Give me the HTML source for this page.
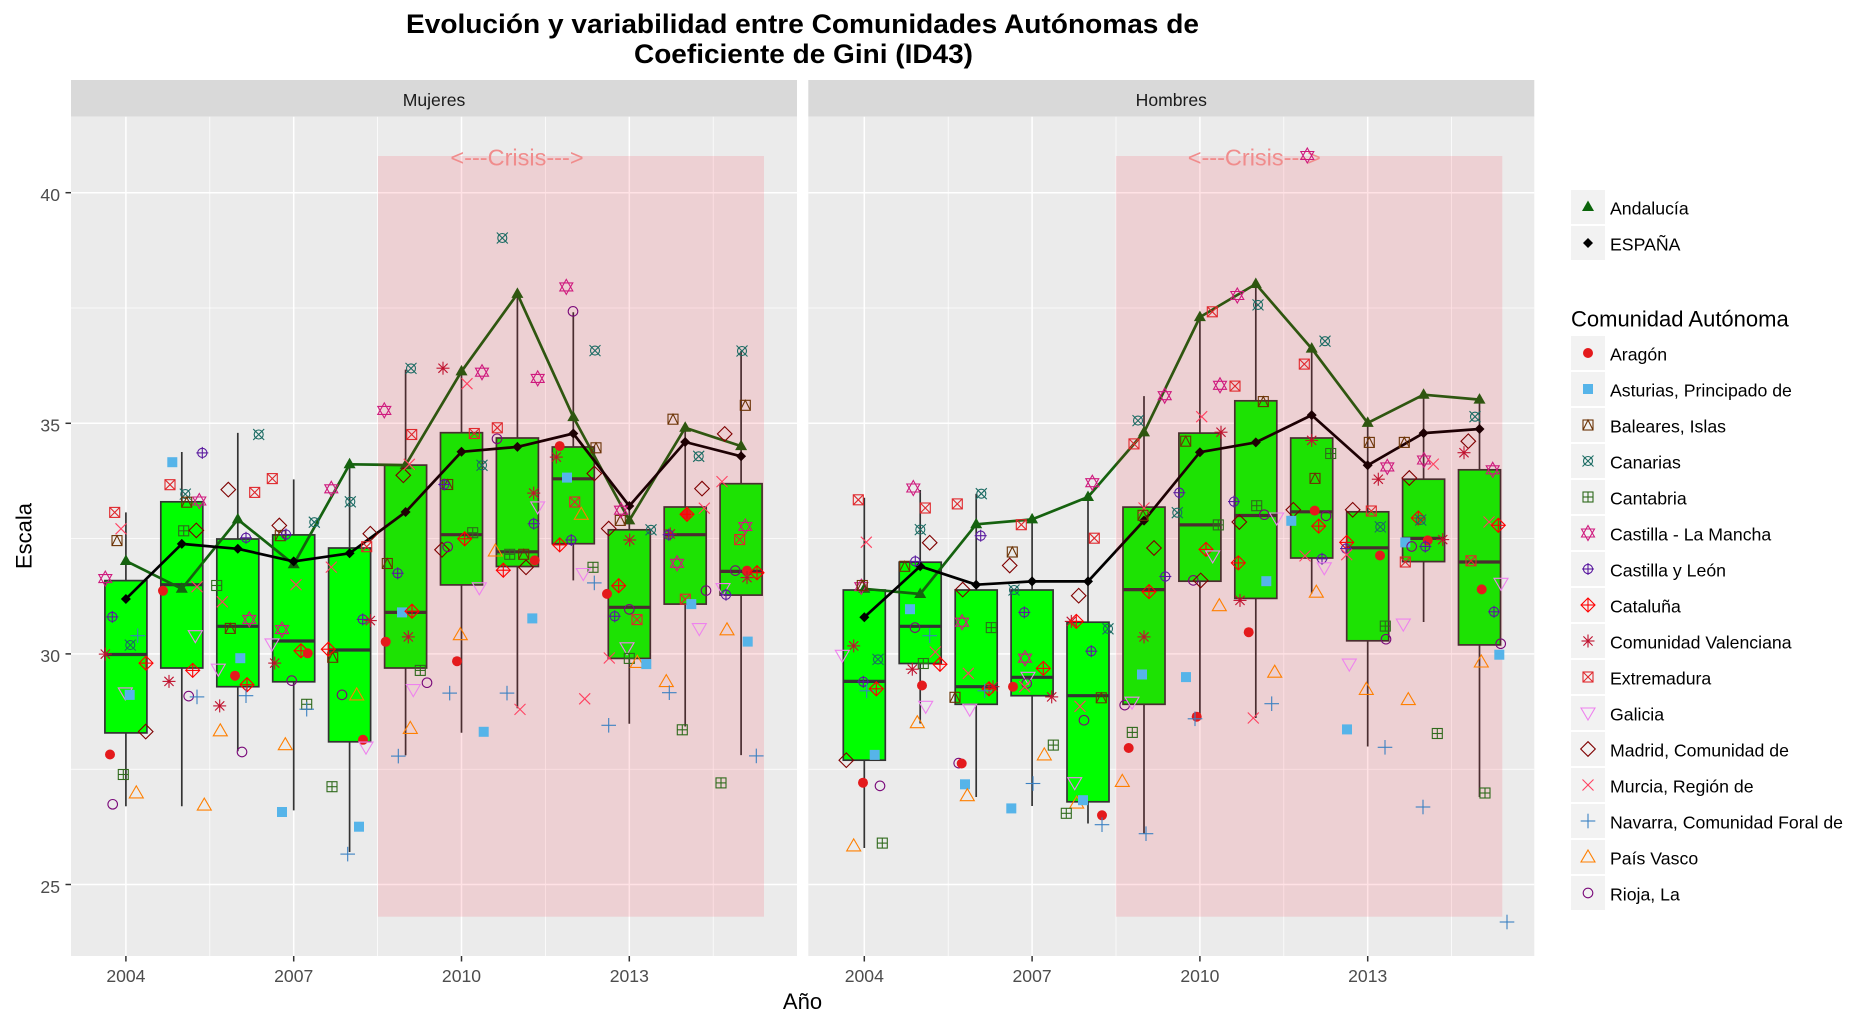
<!DOCTYPE html>
<html><head><meta charset="utf-8">
<style>
html,body{margin:0;padding:0;background:#fff;}
svg{display:block;}
text{font-family:"Liberation Sans",Arial,sans-serif;}
</style></head>
<body>
<svg width="1870" height="1022" viewBox="0 0 1870 1022" xmlns="http://www.w3.org/2000/svg">
<rect width="1870" height="1022" fill="#fff"/>
<!-- Title -->
<text x="802.5" y="33" font-size="27" font-weight="bold" text-anchor="middle" textLength="793" lengthAdjust="spacingAndGlyphs">Evolución y variabilidad entre Comunidades Autónomas de</text>
<text x="803.5" y="63" font-size="27" font-weight="bold" text-anchor="middle" textLength="339" lengthAdjust="spacingAndGlyphs">Coeficiente de Gini (ID43)</text>

<!-- Strips -->
<rect x="71" y="80" width="726" height="36.7" fill="#d9d9d9"/>
<rect x="808.3" y="80" width="726" height="36.7" fill="#d9d9d9"/>
<text x="434" y="106" font-size="17.6" fill="#1a1a1a" text-anchor="middle">Mujeres</text>
<text x="1171.3" y="106" font-size="17.6" fill="#1a1a1a" text-anchor="middle">Hombres</text>

<!-- Panels -->
<rect x="71" y="116.7" width="726" height="839.3" fill="#ebebeb"/>
<rect x="808.3" y="116.7" width="726" height="839.3" fill="#ebebeb"/>

<g stroke="#fff" stroke-width="0.75">
  <line x1="71" x2="797" y1="769.2" y2="769.2"/><line x1="71" x2="797" y1="538.6" y2="538.6"/><line x1="71" x2="797" y1="308" y2="308"/>
  <line x1="808.3" x2="1534.3" y1="769.2" y2="769.2"/><line x1="808.3" x2="1534.3" y1="538.6" y2="538.6"/><line x1="808.3" x2="1534.3" y1="308" y2="308"/>
  <line y1="116.7" y2="956" x1="209.8" x2="209.8"/><line y1="116.7" y2="956" x1="377.6" x2="377.6"/><line y1="116.7" y2="956" x1="545.4" x2="545.4"/><line y1="116.7" y2="956" x1="713.2" x2="713.2"/>
  <line y1="116.7" y2="956" x1="948.2" x2="948.2"/><line y1="116.7" y2="956" x1="1116" x2="1116"/><line y1="116.7" y2="956" x1="1283.8" x2="1283.8"/><line y1="116.7" y2="956" x1="1451.6" x2="1451.6"/>
</g>
<g stroke="#fff" stroke-width="1.5">
  <line x1="71" x2="797" y1="884.5" y2="884.5"/><line x1="71" x2="797" y1="653.9" y2="653.9"/><line x1="71" x2="797" y1="423.3" y2="423.3"/><line x1="71" x2="797" y1="192.7" y2="192.7"/>
  <line x1="808.3" x2="1534.3" y1="884.5" y2="884.5"/><line x1="808.3" x2="1534.3" y1="653.9" y2="653.9"/><line x1="808.3" x2="1534.3" y1="423.3" y2="423.3"/><line x1="808.3" x2="1534.3" y1="192.7" y2="192.7"/>
  <line y1="116.7" y2="956" x1="125.9" x2="125.9"/><line y1="116.7" y2="956" x1="293.7" x2="293.7"/><line y1="116.7" y2="956" x1="461.5" x2="461.5"/><line y1="116.7" y2="956" x1="629.3" x2="629.3"/>
  <line y1="116.7" y2="956" x1="864.3" x2="864.3"/><line y1="116.7" y2="956" x1="1032.1" x2="1032.1"/><line y1="116.7" y2="956" x1="1199.9" x2="1199.9"/><line y1="116.7" y2="956" x1="1367.7" x2="1367.7"/>
</g>

<g id="boxes"></g>
<g id="lines"></g>

<!-- Crisis rectangles -->
<rect x="378" y="156" width="386" height="760.7" fill="rgb(255,0,26)" fill-opacity="0.115"/>
<rect x="1115.9" y="156" width="386.4" height="760.7" fill="rgb(255,0,26)" fill-opacity="0.115"/>

<g id="pts"></g>

<text x="517" y="165.5" font-size="23.5" fill="#f08c8c" text-anchor="middle">&lt;---Crisis---&gt;</text>
<text x="1254.3" y="165.5" font-size="23.5" fill="#f08c8c" text-anchor="middle">&lt;---Crisis---&gt;</text>
<g id="pts2"></g>

<!-- Axes -->
<g stroke="#333" stroke-width="1.5">
  <line x1="65.5" x2="71" y1="884.5" y2="884.5"/><line x1="65.5" x2="71" y1="653.9" y2="653.9"/><line x1="65.5" x2="71" y1="423.3" y2="423.3"/><line x1="65.5" x2="71" y1="192.7" y2="192.7"/>
  <line y1="956" y2="961.5" x1="125.9" x2="125.9"/><line y1="956" y2="961.5" x1="293.7" x2="293.7"/><line y1="956" y2="961.5" x1="461.5" x2="461.5"/><line y1="956" y2="961.5" x1="629.3" x2="629.3"/>
  <line y1="956" y2="961.5" x1="864.3" x2="864.3"/><line y1="956" y2="961.5" x1="1032.1" x2="1032.1"/><line y1="956" y2="961.5" x1="1199.9" x2="1199.9"/><line y1="956" y2="961.5" x1="1367.7" x2="1367.7"/>
</g>
<g font-size="17.6" fill="#4d4d4d">
  <text x="60" y="892.8" text-anchor="end">25</text>
  <text x="60" y="662.2" text-anchor="end">30</text>
  <text x="60" y="431.6" text-anchor="end">35</text>
  <text x="60" y="201" text-anchor="end">40</text>
  <g text-anchor="middle">
  <text x="125.9" y="982">2004</text><text x="293.7" y="982">2007</text><text x="461.5" y="982">2010</text><text x="629.3" y="982">2013</text>
  <text x="864.3" y="982">2004</text><text x="1032.1" y="982">2007</text><text x="1199.9" y="982">2010</text><text x="1367.7" y="982">2013</text>
  </g>
</g>
<text x="802.5" y="1009" font-size="22" text-anchor="middle" fill="#000">Año</text>
<text transform="translate(31.5,536) rotate(-90)" font-size="22" text-anchor="middle" fill="#000">Escala</text>

<!-- Legend -->
<g fill="#f2f2f2">
  <rect x="1571" y="190" width="34" height="34"/><rect x="1571" y="226" width="34" height="34"/>
  <rect x="1571" y="336" width="34" height="34"/><rect x="1571" y="372" width="34" height="34"/><rect x="1571" y="408" width="34" height="34"/><rect x="1571" y="444" width="34" height="34"/>
  <rect x="1571" y="480" width="34" height="34"/><rect x="1571" y="516" width="34" height="34"/><rect x="1571" y="552" width="34" height="34"/><rect x="1571" y="588" width="34" height="34"/>
  <rect x="1571" y="624" width="34" height="34"/><rect x="1571" y="660" width="34" height="34"/><rect x="1571" y="696" width="34" height="34"/><rect x="1571" y="732" width="34" height="34"/>
  <rect x="1571" y="768" width="34" height="34"/><rect x="1571" y="804" width="34" height="34"/><rect x="1571" y="840" width="34" height="34"/><rect x="1571" y="876" width="34" height="34"/>
</g>
<path d="M1588 200.5L1594 211L1582 211Z" fill="#0b640b"/>
<path d="M1588 238L1593 243L1588 248L1583 243Z" fill="#000"/>
<g font-size="17.7" fill="#000">
  <text x="1610" y="214.3">Andalucía</text>
  <text x="1610" y="250.3">ESPAÑA</text>
  <text x="1571" y="326.7" font-size="22">Comunidad Autónoma</text>
  <text x="1610" y="360.3">Aragón</text>
  <text x="1610" y="396.3">Asturias, Principado de</text>
  <text x="1610" y="432.3">Baleares, Islas</text>
  <text x="1610" y="468.3">Canarias</text>
  <text x="1610" y="504.3">Cantabria</text>
  <text x="1610" y="540.3">Castilla - La Mancha</text>
  <text x="1610" y="576.3">Castilla y León</text>
  <text x="1610" y="612.3">Cataluña</text>
  <text x="1610" y="648.3">Comunidad Valenciana</text>
  <text x="1610" y="684.3">Extremadura</text>
  <text x="1610" y="720.3">Galicia</text>
  <text x="1610" y="756.3">Madrid, Comunidad de</text>
  <text x="1610" y="792.3">Murcia, Región de</text>
  <text x="1610" y="828.3">Navarra, Comunidad Foral de</text>
  <text x="1610" y="864.3">País Vasco</text>
  <text x="1610" y="900.3">Rioja, La</text>
</g>
<g id="legm"></g>
</svg>
<script>
(function(){
var BX=[
[125.9,512.4,580.6,654.5,732.9,806.3],[181.8,452.0,501.8,584.7,668.0,806.3],[237.8,432.9,539.0,626.3,686.7,751.2],
[293.7,479.4,534.9,641.0,681.8,810.4],[349.6,464.3,548.0,650.0,741.8,852.0],[405.6,369.6,465.1,612.4,668.0,755.3],
[461.5,371.4,432.7,534.7,584.9,732.7],[517.4,293.9,438.0,551.8,566.5,708.2],[573.3,312.2,447.0,478.8,543.7,580.4],
[629.3,506.0,529.8,607.3,658.4,723.7],[685.2,427.8,507.0,534.7,604.1,726.5],[741.1,351.0,483.7,571.4,595.1,755.1],
[864.3,497.8,590.0,681.4,760.2,848.0],[920.2,490.0,562.2,626.3,663.5,723.5],[976.2,493.7,590.0,686.7,704.3,797.0],
[1032.1,519.4,590.0,677.3,695.7,806.0],[1088.0,497.0,622.2,695.7,801.8,823.5],[1144.0,396.1,507.1,589.6,704.3,833.7],
[1199.9,315.9,433.1,524.9,581.2,716.0],[1255.8,284.0,400.8,515.5,598.4,718.0],[1311.7,345.0,438.0,511.8,558.0,593.5],
[1367.7,424.0,511.8,547.8,640.8,746.5],[1423.6,394.7,479.2,538.4,561.6,622.0],[1479.5,399.6,469.8,562.0,644.9,797.0]];
var h='';
BX.forEach(function(b){var c=b[0];
 h+='<line x1="'+c+'" x2="'+c+'" y1="'+b[1]+'" y2="'+b[2]+'" stroke="#333" stroke-width="1.7"/>';
 h+='<line x1="'+c+'" x2="'+c+'" y1="'+b[4]+'" y2="'+b[5]+'" stroke="#333" stroke-width="1.7"/>';
 h+='<rect x="'+(c-21)+'" y="'+b[2]+'" width="42" height="'+(b[4]-b[2])+'" fill="#00ff00" stroke="#333" stroke-width="1.7"/>';
 h+='<line x1="'+(c-21)+'" x2="'+(c+21)+'" y1="'+b[3]+'" y2="'+b[3]+'" stroke="#333" stroke-width="3.2"/>';
});
document.getElementById('boxes').innerHTML=h;
var XS1=[125.9,181.8,237.8,293.7,349.6,405.6,461.5,517.4,573.3,629.3,685.2,741.1];
var XS2=XS1.map(function(x){return +(x+738.4).toFixed(1);});
var A1=[561.0,588.8,519.4,564.3,464.3,465.1,371.4,293.9,417.1,520.4,427.8,446.1];
var E1=[599.0,543.9,548.8,561.4,553.3,512.0,451.8,446.9,433.5,506.0,442.0,456.3];
var A2=[588.8,594.0,524.3,519.4,497.0,432.4,317.1,284.0,348.6,422.9,394.7,399.6];
var E2=[617.3,566.3,584.7,581.4,581.4,520.6,452.2,442.4,415.1,465.3,433.1,429.0];
function line(xs,ys,col,mk){var p=xs.map(function(x,i){return x+','+ys[i];}).join(' ');
 var s='<polyline points="'+p+'" fill="none" stroke="'+col+'" stroke-width="2.7" stroke-linejoin="round"/>';
 xs.forEach(function(x,i){var y=ys[i];
  if(mk=='t') s+='<path d="M'+x+' '+(y-6.5)+'L'+(x+6)+' '+(y+4)+'L'+(x-6)+' '+(y+4)+'Z" fill="'+col+'"/>';
  else s+='<path d="M'+x+' '+(y-5)+'L'+(x+5)+' '+y+'L'+x+' '+(y+5)+'L'+(x-5)+' '+y+'Z" fill="'+col+'"/>';
 });return s;}
document.getElementById('lines').innerHTML=line(XS1,A1,'#15620f','t')+line(XS1,E1,'#000','d')+line(XS2,A2,'#15620f','t')+line(XS2,E2,'#000','d');

var C={ar:'#e41a1c',as:'#56b4e9',ba:'#6b3305',ca:'#1b6b63',cn:'#2f6a1c',cm:'#cf1a7e',cl:'#5a1a9f',ct:'#ff0000',cv:'#c0122f',ex:'#e0282d',ga:'#ee82ee',ma:'#7f0000',mu:'#ff4060',na:'#3a80c2',pv:'#ff7f00',ri:'#7a0a7a'};
function mk(t,x,y){
 x=+x.toFixed(1);y=+y.toFixed(1);var c=C[t];var st=' fill="none" stroke="'+c+'" stroke-width="1.1"';
 function sq(hh){return '<rect x="'+(x-hh)+'" y="'+(y-hh)+'" width="'+(2*hh)+'" height="'+(2*hh)+'"'+st+'/>';}
 function ln(a,b,d,e){return '<line x1="'+(x+a)+'" y1="'+(y+b)+'" x2="'+(x+d)+'" y2="'+(y+e)+'" stroke="'+c+'" stroke-width="1.1"/>';}
 switch(t){
 case 'ar':return '<circle cx="'+x+'" cy="'+y+'" r="5" fill="'+c+'"/>';
 case 'as':return '<rect x="'+(x-5)+'" y="'+(y-5)+'" width="10" height="10" fill="'+c+'"/>';
 case 'ba':return sq(5)+'<path d="M'+(x-5)+' '+(y+5)+'L'+x+' '+(y-5)+'L'+(x+5)+' '+(y+5)+'"'+st+'/>';
 case 'ca':return '<circle cx="'+x+'" cy="'+y+'" r="4.5"'+st+'/>'+ln(-5.5,-5.5,5.5,5.5)+ln(-5.5,5.5,5.5,-5.5);
 case 'cn':return sq(5)+ln(0,-5,0,5)+ln(-5,0,5,0);
 case 'cm':return '<path d="M'+x+' '+(y-7.5)+'L'+(x+6.5)+' '+(y+4)+'L'+(x-6.5)+' '+(y+4)+'Z M'+x+' '+(y+7.5)+'L'+(x+6.5)+' '+(y-4)+'L'+(x-6.5)+' '+(y-4)+'Z"'+st+'/>';
 case 'cl':return '<circle cx="'+x+'" cy="'+y+'" r="4.6"'+st+'/>'+ln(0,-6,0,6)+ln(-6,0,6,0);
 case 'ct':return '<path d="M'+x+' '+(y-7)+'L'+(x+7)+' '+y+'L'+x+' '+(y+7)+'L'+(x-7)+' '+y+'Z"'+st+'/>'+ln(0,-7,0,7)+ln(-7,0,7,0);
 case 'cv':return ln(0,-6.5,0,6.5)+ln(-6.5,0,6.5,0)+ln(-4.6,-4.6,4.6,4.6)+ln(-4.6,4.6,4.6,-4.6);
 case 'ex':return sq(5)+ln(-5,-5,5,5)+ln(-5,5,5,-5);
 case 'ga':return '<path d="M'+x+' '+(y+7)+'L'+(x+7)+' '+(y-5)+'L'+(x-7)+' '+(y-5)+'Z"'+st+'/>';
 case 'ma':return '<path d="M'+x+' '+(y-7.3)+'L'+(x+7.3)+' '+y+'L'+x+' '+(y+7.3)+'L'+(x-7.3)+' '+y+'Z"'+st+'/>';
 case 'mu':return ln(-5.5,-5.5,5.5,5.5)+ln(-5.5,5.5,5.5,-5.5);
 case 'na':return ln(0,-7.3,0,7.3)+ln(-7.3,0,7.3,0);
 case 'pv':return '<path d="M'+x+' '+(y-7)+'L'+(x+7)+' '+(y+5)+'L'+(x-7)+' '+(y+5)+'Z"'+st+'/>';
 case 'ri':return '<circle cx="'+x+'" cy="'+y+'" r="4.8"'+st+'/>';
 }return '';}
var Z=[
[71,250,"ex 131 643;mu 150 683;ba 138 712;cm 103 805;cl 124 899;na 200 945;ca 178 968;cv 103 990;ct 225 1012;ga 163 1085;as 176 1090;ma 224 1180;ar 117 1236;cn 157 1285;pv 196 1330;ri 125 1358;"+
"as 304 520;cl 394 497;ex 297 575;ca 343 598;ba 347 618;cm 385 615;cn 338 688;ma 376 687;ar 276 835;mu 378 825;ga 373 945;ct 365 1030;cv 294 1057;ri 353 1093;na 378 1095;pv 400 1360;"+
"ca 563 452;ma 472 587;ex 551 594;cl 525 705;cn 437 822;mu 454 862;cm 535 905;ba 478 927;as 508 1000;ga 442 1027;ar 492 1043;ct 528 1065;na 525 1092;cv 446 1117;pv 448 1178;ri 513 1230;"+
"ex 604 560;ma 625 675;ba 628 700;cl 645 697;ca 730 667;mu 675 820;cm 633 930;ga 603 965;cv 611 1012;ct 690 982;ar 710 988;ri 662 1055;cn 707 1113;na 707 1125;pv 643 1212;as 633 1377;"+
"cm 781 585;ca 838 617;ma 898 695;ex 887 727;mu 781 777;ba 785 998;ct 772 978;cl 875 905;cv 898 908;ar 876 1200;ga 885 1218;ri 813 1090;pv 857 1090;cn 783 1315;as 864 1413;na 830 1480;"+
"ca 1020 290;cm 940 393;ex 1022 452;ma 997 552;mu 1015 525;ba 949 768;cl 980 792;as 993 888;ct 1023 885;ar 944 960;cv 1012 948;cn 1048 1030;ga 1027 1077;ri 1068 1060;pv 1018 1172;na 982 1240"],
[427,200,"cv 48 412;mu 120 450;cm 165 422;ex 142 572;ba 62 697;cl 52 697;ca 165 650;cn 137 815;ct 113 830;ma 45 857;ri 62 850;ga 157 950;pv 100 1065;ar 90 1130;na 68 1208;as 170 1303;"+
"ca 226 93;cm 332 437;ex 211 558;ri 210 585;cv 320 718;ga 332 752;cl 320 793;ma 297 900;pv 205 860;cn 248 868;ba 290 868;ar 323 883;ct 229 907;as 316 1025;na 240 1208;mu 279 1248;"+
"cm 418 213;ri 438 273;ca 504 369;ar 398 603;cv 388 630;ba 507 607;as 420 680;ma 502 670;ex 443 740;pv 463 770;ct 398 845;cl 433 833;cn 498 900;ga 469 915;na 502 938;mu 473 1222;"+
"ba 580 785;cm 582 760;ma 545 805;ca 672 808;cv 608 833;ct 575 945;ar 540 965;ri 607 1003;cl 563 1020;ex 630 1028;ga 600 1097;cn 607 1123;pv 631 1133;as 658 1137;mu 547 1122;na 545 1287;"+
"ba 738 537;ca 815 628;ma 825 707;mu 832 755;ar 778 770;ct 780 770;cv 730 818;cl 725 820;cm 750 890;ri 837 957;ex 775 978;as 793 990;ga 817 1050;pv 718 1180;na 727 1207;cn 766 1298;"+
"ca 945 370;ba 955 503;ma 893 573;mu 885 690;cm 955 800;ex 938 832;ri 925 908;ar 960 908;ct 990 913;cv 960 925;ga 888 952;cl 897 967;pv 900 1053;as 962 1082;na 988 1362;cn 882 1428"],
[808,250,"ex 151 612;mu 175 716;cm 160 825;ba 163 822;cv 137 970;ga 103 993;ca 210 1003;cl 166 1058;na 176 1080;ct 205 1075;as 200 1237;ma 115 1250;ar 165 1305;ri 216 1313;pv 137 1460;cn 223 1453;"+
"cm 316 583;ex 352 632;ca 337 685;ma 365 717;ba 290 775;cl 322 763;as 306 880;ri 321 925;na 365 945;mu 382 985;ct 396 1015;cn 346 1013;cv 313 1027;ar 342 1067;ga 353 1118;pv 328 1158;"+
"ex 448 622;ca 520 597;cl 518 700;ma 464 832;cm 462 912;cn 550 925;mu 481 1037;cv 555 1070;ct 543 1075;na 530 1080;ba 441 1096;ga 485 1125;ri 452 1257;ar 461 1258;as 471 1309;pv 478 1337;"+
"ex 640 673;ba 613 740;ma 605 773;ca 618 833;cl 649 888;cm 651 1000;ct 706 1025;ga 660 1047;ri 656 1062;mu 650 1070;ar 615 1070;cv 731 1095;cn 736 1213;pv 709 1237;na 675 1307;as 610 1368;"+
"cm 853 570;ex 859 706;ma 812 847;cv 790 910;ct 805 910;ca 900 928;cl 850 983;ba 880 1097;mu 816 1118;ri 828 1152;ga 800 1305;pv 806 1355;as 825 1348;cn 775 1380;ar 882 1385;na 882 1408;"+
"cm 1070 357;ca 990 418;ex 978 475;mu 1008 632;ba 1005 650;ma 1038 730;cl 1072 800;ct 1023 837;cv 1008 948;as 1002 1040;ri 950 1115;ga 972 1108;cn 973 1182;ar 962 1220;pv 943 1302;na 1014 1430"],
[1170,120,"ex 127 470;mu 95 727;cv 153 765;cm 150 650;ba 47 787;cl 28 913;ca 22 962;cn 145 992;ct 108 1052;ga 128 1068;ri 70 1128;ma 92 1128;pv 148 1190;as 48 1365;ar 80 1462;na 75 1467;"+
"cm 202 430;ca 264 453;ex 195 652;ba 280 690;cl 192 935;cn 260 945;ri 283 967;ga 320 975;ma 208 985;ct 205 1085;as 289 1130;cv 210 1177;ar 236 1255;pv 314 1353;na 305 1430;mu 250 1465;"+
"ca 465 542;ex 403 598;cv 425 785;cn 482 817;ba 435 878;ma 370 955;ar 434 957;as 364 982;ri 468 970;ct 446 995;mu 405 1068;cl 456 1075;ga 463 1097;pv 439 1157;"+
"ba 598 790;cm 652 850;cv 625 880;ma 548 955;ex 604 958;ca 631 997;ct 530 1035;cl 528 1050;mu 530 1065;ar 630 1067;cn 646 1240;ri 648 1272;ga 538 1333;pv 589 1395;as 531 1493;na 645 1537;"+
"ba 703 790;cm 762 833;mu 790 843;ma 718 877;ct 745 975;ca 752 980;as 706 1035;ar 773 1030;cv 818 1028;ri 725 1045;cl 766 1045;ex 706 1083;ga 700 1235;pv 715 1420;cn 802 1503;"+
"ca 915 727;ma 895 787;cv 882 815;cm 968 857;mu 957 985;ct 985 993;ex 903 1080;ga 993 1135;ar 935 1150;cl 972 1205;ri 992 1283;as 988 1310;pv 934 1328"]];
var p='';
Z.forEach(function(z){z[2].split(';').forEach(function(it){var a=it.trim().split(/\s+/);if(a.length<3)return;p+=mk(a[0],z[0]+(+a[1])/3,z[1]+(+a[2])/2.45);});});
p+=mk('na',1423,807)+mk('na',1507,922)+mk('cn',1485,793);
document.getElementById('pts').innerHTML=p;
document.getElementById('pts2').innerHTML=mk('cm',1170+412/3,120+87/2.45);
var L=['ar','as','ba','ca','cn','cm','cl','ct','cv','ex','ga','ma','mu','na','pv','ri'];var q='';
L.forEach(function(t,i){q+=mk(t,1588,353+36*i);});
document.getElementById('legm').innerHTML=q;
})();
</script>
</body></html>
